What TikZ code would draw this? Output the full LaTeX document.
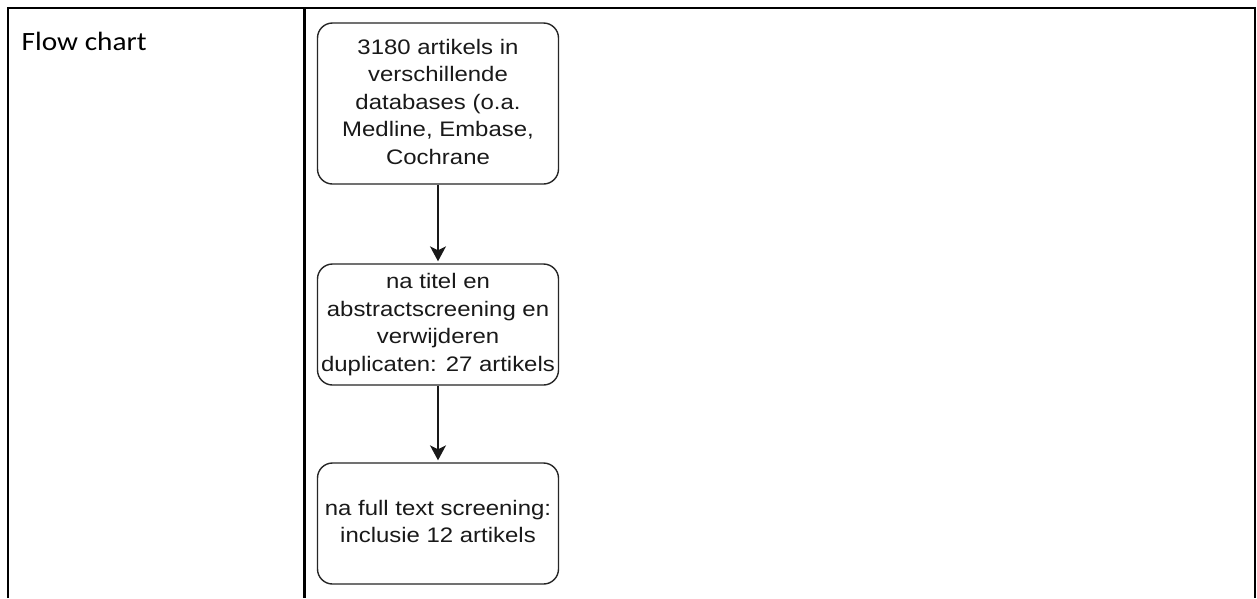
\documentclass[tikz,border=0pt]{standalone}
\usepackage{fontspec}
\usepackage{graphicx}
\setmainfont{Liberation Sans}
\newfontfamily\calibrifont{Carlito}
\usetikzlibrary{arrows.meta}
\newcommand{\boxtext}[1]{\raisebox{-1.5pt}{\scalebox{1.14}[1]{\begin{tabular}{@{}c@{}}#1\end{tabular}}}}
\begin{document}
\begin{tikzpicture}[x=1pt,y=-1pt,
  frame/.style={line width=2.5pt, draw=black, line cap=butt, line join=miter},
  flowbox/.style={draw=black!85, line width=1.4pt, rounded corners=15pt,
    minimum width=241pt, inner sep=0pt, font=\fontsize{21}{27.5}\selectfont, text=black!90},
  flowarrow/.style={draw=black!90, line width=1.4pt,
    -{Stealth[length=15pt,width=16pt,inset=4pt]}, shorten >=2pt},
  titletext/.style={anchor=base west, inner sep=0pt, font=\calibrifont\fontsize{26.4}{30}\selectfont, text=black}]
\useasboundingbox (0,0) rectangle (1257,598);
\fill[white] (0,0) rectangle (1257,598);
% table frame
\draw[frame] (8,598) -- (8,8) -- (1255,8) -- (1255,598);
\draw[frame] (304.7,8) -- (304.7,598);
% title
\node[titletext] (title) at (21.5,50) {\scalebox{1.11}[1]{Flow chart}};
% flow chart boxes
\node[flowbox, minimum height=161pt] (b1) at (438,103.5)
  {\boxtext{3180 artikels in\\verschillende\\databases (o.a.\\Medline, Embase,\\Cochrane}};
\node[flowbox, minimum height=121pt] (b2) at (438,324.5)
  {\boxtext{na titel en\\abstractscreening en\\verwijderen\\duplicaten: 27 artikels}};
\node[flowbox, minimum height=121pt] (b3) at (438,523.5)
  {\boxtext{na full text screening:\\inclusie 12 artikels}};
% connectors
\draw[flowarrow] (b1.south) -- (b2.north);
\draw[flowarrow] (b2.south) -- (b3.north);
\end{tikzpicture}
\end{document}
